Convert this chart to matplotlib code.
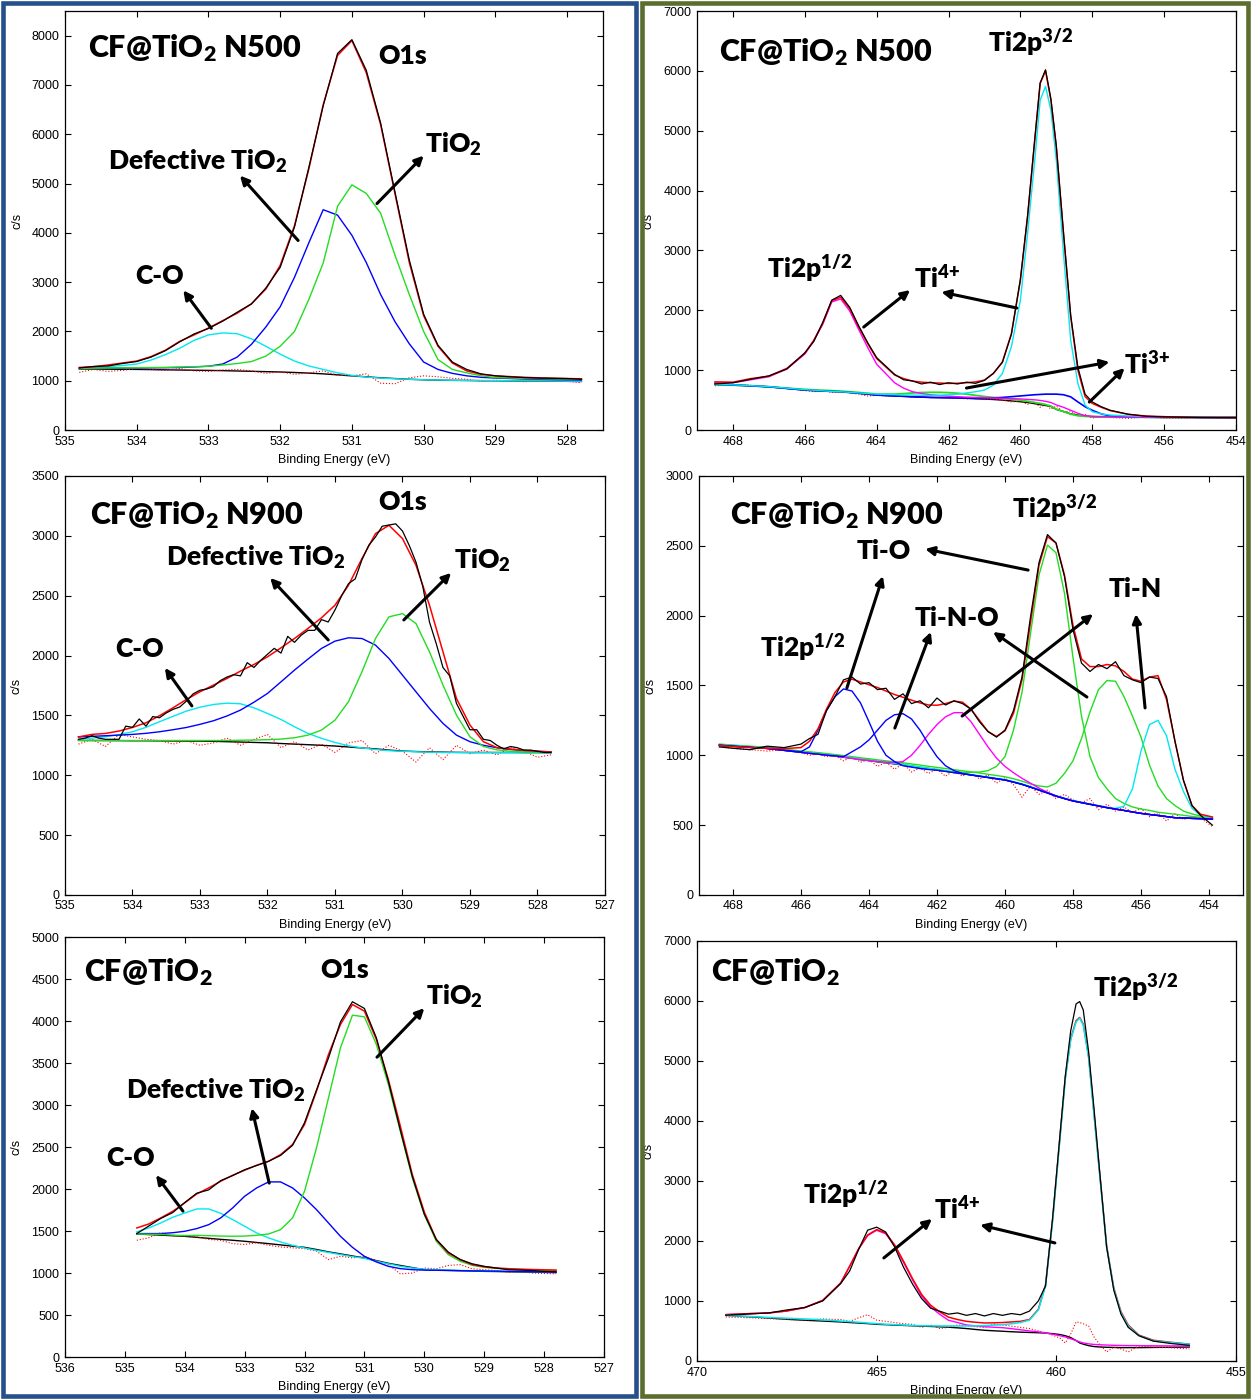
import matplotlib
matplotlib.use("Agg")
import matplotlib.pyplot as plt
from matplotlib.patches import Rectangle
from matplotlib.ticker import MultipleLocator

plt.rcParams['font.family'] = ['Liberation Sans', 'DejaVu Sans']
plt.rcParams['mathtext.fontset'] = 'custom'
plt.rcParams['mathtext.rm'] = 'Lato'
plt.rcParams['mathtext.bf'] = 'Lato:heavy'
plt.rcParams['mathtext.it'] = 'Lato:italic'

# ---------------- O1s energy grid (eV) ----------------
E_o = [534.8, 534.6, 534.4, 534.2, 534.0, 533.8, 533.6, 533.4, 533.2, 533.0,
       532.8, 532.6, 532.4, 532.2, 532.0, 531.8, 531.6, 531.4, 531.2, 531.0,
       530.8, 530.6, 530.4, 530.2, 530.0, 529.8, 529.6, 529.4, 529.2, 529.0,
       528.8, 528.6, 528.4, 528.2, 528.0, 527.8]

# CF@TiO2 N500, O1s
n500_o_bg = [1240, 1238, 1235, 1232, 1230, 1226, 1222, 1218, 1214, 1210,
             1205, 1198, 1192, 1185, 1178, 1168, 1155, 1140, 1120, 1100,
             1080, 1060, 1045, 1030, 1020, 1012, 1008, 1005, 1002, 1000,
             997, 994, 992, 990, 988, 985]
n500_o_co = [1250, 1265, 1285, 1310, 1340, 1420, 1530, 1660, 1820, 1930,
             1970, 1955, 1850, 1700, 1540, 1400, 1300, 1230, 1160, 1110,
             1075, 1055, 1040, 1030, 1020, 1015, 1010, 1008, 1005, 1003,
             1000, 998, 996, 994, 992, 990]
n500_o_def = [1250, 1250, 1255, 1258, 1260, 1262, 1265, 1270, 1280, 1295,
              1340, 1480, 1740, 2090, 2500, 3100, 3800, 4470, 4360, 3950,
              3400, 2750, 2200, 1750, 1380, 1230, 1150, 1100, 1070, 1055,
              1045, 1035, 1030, 1025, 1020, 1015]
n500_o_tio2 = [1250, 1255, 1258, 1262, 1265, 1268, 1272, 1278, 1285, 1295,
               1320, 1350, 1390, 1500, 1700, 2000, 2650, 3390, 4540, 4975,
               4800, 4400, 3550, 2750, 2000, 1430, 1230, 1160, 1100, 1065,
               1055, 1048, 1042, 1038, 1035, 1032]
n500_o_env = [1270, 1285, 1320, 1360, 1400, 1490, 1620, 1800, 1930, 2070,
              2220, 2370, 2560, 2860, 3340, 4150, 5300, 6600, 7600, 7900,
              7250, 6200, 4800, 3400, 2320, 1700, 1360, 1200, 1130, 1100,
              1085, 1070, 1060, 1052, 1045, 1040]
n500_o_raw = [1260, 1290, 1300, 1350, 1390, 1480, 1610, 1790, 1950, 2060,
              2210, 2390, 2560, 2880, 3300, 4120, 5330, 6580, 7640, 7920,
              7300, 6230, 4830, 3450, 2350, 1720, 1380, 1230, 1140, 1100,
              1080, 1065, 1055, 1050, 1045, 1030]
n500_o_res = [1170, 1230, 1190, 1210, 1250, 1230, 1210, 1250, 1200, 1190,
              1220, 1230, 1200, 1150, 1180, 1130, 1160, 1200, 1110, 1100,
              1140, 950, 940, 1060, 1100, 1080, 1050, 1030, 990, 1010,
              1000, 980, 990, 1000, 990, 960]

# CF@TiO2 N900, O1s
n900_o_bg = [1291, 1290, 1290, 1289, 1288, 1288, 1287, 1286, 1285, 1285,
             1283, 1280, 1277, 1274, 1271, 1265, 1260, 1255, 1250, 1244,
             1236, 1228, 1220, 1210, 1202, 1198, 1195, 1193, 1191, 1190,
             1190, 1190, 1190, 1189, 1189, 1188]
n900_o_co = [1300, 1310, 1321, 1340, 1363, 1400, 1447, 1492, 1536, 1568,
             1591, 1602, 1597, 1563, 1516, 1466, 1405, 1349, 1308, 1274,
             1246, 1228, 1215, 1205, 1200, 1196, 1192, 1190, 1189, 1188,
             1188, 1188, 1188, 1187, 1187, 1187]
n900_o_def = [1320, 1325, 1330, 1335, 1341, 1350, 1363, 1380, 1399, 1425,
              1455, 1495, 1544, 1610, 1683, 1780, 1878, 1970, 2059, 2120,
              2148, 2142, 2087, 1975, 1836, 1697, 1558, 1433, 1335, 1280,
              1250, 1230, 1215, 1205, 1200, 1195]
n900_o_tio2 = [1290, 1290, 1290, 1290, 1290, 1290, 1290, 1290, 1290, 1290,
               1290, 1290, 1292, 1294, 1297, 1302, 1313, 1335, 1377, 1460,
               1614, 1864, 2142, 2323, 2350, 2267, 2031, 1753, 1502, 1321,
               1240, 1212, 1200, 1195, 1192, 1190]
n900_o_env = [1320, 1341, 1349, 1369, 1399, 1438, 1497, 1563, 1633, 1697,
              1753, 1808, 1870, 1925, 1989, 2064, 2142, 2226, 2315, 2420,
              2587, 2810, 3018, 3088, 2977, 2754, 2420, 2031, 1641, 1419,
              1280, 1230, 1218, 1208, 1200, 1195]
n900_o_res = [1260, 1300, 1240, 1340, 1320, 1300, 1290, 1260, 1290, 1250,
              1270, 1310, 1250, 1300, 1340, 1230, 1280, 1210, 1260, 1190,
              1270, 1290, 1180, 1250, 1200, 1110, 1230, 1130, 1250, 1180,
              1210, 1170, 1230, 1200, 1150, 1170]
E_o_raw900 = [534.8, 534.7, 534.6, 534.5, 534.4, 534.3, 534.2, 534.1, 534.0, 533.9,
              533.8, 533.7, 533.6, 533.5, 533.4, 533.3, 533.2, 533.1, 533.0, 532.9,
              532.8, 532.7, 532.6, 532.5, 532.4, 532.3, 532.2, 532.1, 532.0, 531.9,
              531.8, 531.7, 531.6, 531.5, 531.4, 531.3, 531.2, 531.1, 531.0, 530.9,
              530.8, 530.7, 530.6, 530.5, 530.4, 530.3, 530.2, 530.1, 530.0, 529.9,
              529.8, 529.7, 529.6, 529.5, 529.4, 529.3, 529.2, 529.1, 529.0, 528.9,
              528.8, 528.7, 528.6, 528.5, 528.4, 528.3, 528.2, 528.1, 528.0, 527.9,
              527.8]
n900_o_raw = [1300, 1310, 1330, 1310, 1300, 1300, 1300, 1410, 1400, 1470,
              1410, 1490, 1480, 1520, 1550, 1570, 1620, 1680, 1710, 1720,
              1740, 1790, 1820, 1840, 1830, 1940, 1900, 1960, 2010, 2060,
              2020, 2160, 2110, 2170, 2210, 2210, 2300, 2280, 2380, 2500,
              2600, 2640, 2800, 2920, 2990, 3080, 3090, 3100, 3040, 2920,
              2780, 2580, 2280, 2100, 1900, 1830, 1600, 1490, 1380, 1380,
              1300, 1290, 1250, 1220, 1240, 1230, 1210, 1210, 1200, 1190,
              1190]

# CF@TiO2, O1s
cf_o_bg = [1465, 1458, 1451, 1444, 1437, 1425, 1413, 1401, 1390, 1378,
           1364, 1350, 1335, 1320, 1306, 1280, 1252, 1228, 1203, 1179,
           1148, 1116, 1090, 1065, 1040, 1036, 1032, 1028, 1024, 1020,
           1018, 1015, 1013, 1010, 1008, 1005]
cf_o_co = [1490, 1537, 1596, 1664, 1715, 1763, 1763, 1711, 1636, 1557,
           1477, 1418, 1370, 1330, 1298, 1270, 1245, 1220, 1195, 1175,
           1140, 1110, 1080, 1060, 1045, 1040, 1035, 1030, 1028, 1025,
           1022, 1020, 1018, 1015, 1013, 1010]
cf_o_def = [1470, 1470, 1470, 1480, 1497, 1529, 1576, 1656, 1775, 1914,
            2013, 2085, 2085, 2013, 1894, 1755, 1596, 1437, 1306, 1199,
            1132, 1080, 1052, 1040, 1035, 1033, 1030, 1028, 1026, 1024,
            1022, 1020, 1018, 1015, 1013, 1010]
cf_o_tio2 = [1465, 1462, 1460, 1452, 1445, 1449, 1445, 1440, 1438, 1440,
             1449, 1465, 1517, 1656, 1974, 2490, 3085, 3681, 4070, 4050,
             3721, 3244, 2688, 2132, 1696, 1378, 1219, 1140, 1092, 1068,
             1055, 1048, 1042, 1038, 1035, 1032]
cf_o_env = [1537, 1584, 1656, 1735, 1835, 1942, 2013, 2093, 2164, 2224,
            2283, 2331, 2410, 2530, 2768, 3165, 3602, 3959, 4197, 4118,
            3780, 3304, 2748, 2172, 1727, 1398, 1239, 1160, 1100, 1075,
            1060, 1052, 1046, 1042, 1038, 1035]
cf_o_raw = [1470, 1560, 1650, 1720, 1840, 1950, 1990, 2100, 2160, 2230,
            2280, 2330, 2400, 2520, 2790, 3180, 3560, 3990, 4230, 4150,
            3800, 3280, 2700, 2150, 1700, 1400, 1250, 1160, 1110, 1080,
            1060, 1040, 1035, 1030, 1020, 1015]
cf_o_res = [1390, 1420, 1480, 1440, 1450, 1430, 1400, 1390, 1350, 1340,
            1360, 1330, 1310, 1300, 1290, 1260, 1160, 1200, 1180, 1200,
            1150, 1100, 990, 1000, 1060, 1050, 1090, 1100, 1050, 1040,
            1030, 1010, 1020, 1000, 995, 990]

# ---------------- Ti2p, CF@TiO2 N500 ----------------
E_ti500 = [468.5, 468, 467.5, 467, 466.5, 466, 465.75, 465.5, 465.25, 465,
           464.75, 464.5, 464.25, 464, 463.5, 463.25, 463, 462.75, 462.5, 462.25,
           462, 461.75, 461.5, 461.25, 461, 460.75, 460.5, 460.25, 460, 459.8,
           459.6, 459.45, 459.3, 459.15, 459, 458.8, 458.6, 458.4, 458.2, 458,
           457.75, 457.5, 457, 456.5, 456, 455, 454]
n500_ti_env = [805, 800, 860, 900, 1030, 1280, 1500, 1780, 2160, 2220,
               2030, 1725, 1445, 1195, 920, 860, 818, 800, 790, 785,
               779, 782, 790, 805, 835, 945, 1140, 1610, 2500, 3560,
               4840, 5790, 6000, 5510, 4730, 3280, 1890, 1000, 560, 445,
               380, 325, 262, 234, 223, 212, 211]
n500_ti_raw = [770, 790, 850, 905, 1020, 1290, 1480, 1800, 2170, 2250,
               2050, 1740, 1460, 1210, 930, 840, 820, 770, 800, 760,
               790, 770, 800, 780, 830, 950, 1130, 1600, 2520, 3580,
               4860, 5800, 6020, 5530, 4750, 3300, 1920, 1050, 600, 470,
               390, 330, 265, 230, 220, 210, 205]
n500_ti_mag = [790, 790, 840, 890, 1020, 1270, 1490, 1770, 2140, 2190,
               1990, 1680, 1380, 1100, 790, 700, 640, 610, 590, 575,
               565, 557, 550, 545, 540, 535, 530, 525, 520, 512,
               505, 495, 480, 460, 420, 380, 330, 280, 240, 230,
               225, 220, 215, 213, 212, 211, 211]
n500_ti_cyan = [765, 755, 742, 725, 700, 675, 665, 655, 645, 640,
                630, 620, 610, 600, 590, 585, 585, 582, 580, 583,
                590, 600, 620, 640, 668, 750, 946, 1391, 2170, 3283,
                4507, 5508, 5742, 5341, 4507, 2949, 1502, 779, 417, 306,
                270, 250, 235, 228, 225, 215, 212]
n500_ti_bg = [768, 755, 740, 723, 695, 668, 660, 652, 645, 640,
              628, 615, 600, 584, 570, 563, 556, 550, 545, 542,
              540, 535, 530, 522, 517, 510, 500, 487, 473, 460,
              440, 425, 410, 395, 345, 310, 270, 250, 235, 223,
              220, 218, 215, 213, 212, 210, 210]
n500_ti_grn = [760, 750, 738, 725, 700, 680, 672, 665, 658, 650,
               640, 628, 615, 600, 600, 608, 620, 627, 630, 630,
               625, 615, 600, 580, 560, 545, 530, 515, 500, 480,
               460, 445, 425, 400, 350, 310, 265, 240, 228, 224,
               220, 218, 215, 213, 212, 210, 210]
n500_ti_blue = [765, 752, 738, 722, 695, 668, 660, 652, 645, 640,
                628, 615, 600, 584, 570, 563, 556, 550, 545, 542,
                540, 537, 534, 532, 530, 537, 545, 557, 570, 580,
                590, 595, 600, 600, 600, 590, 555, 470, 390, 330,
                270, 235, 220, 214, 213, 210, 210]
n500_ti_res = [740, 760, 750, 720, 700, 660, 640, 660, 630, 640,
               620, 600, 570, 580, 560, 570, 550, 560, 540, 545,
               530, 540, 520, 535, 510, 520, 500, 470, 480, 430,
               470, 380, 430, 350, 400, 300, 320, 230, 260, 200,
               230, 210, 195, 220, 200, 205, 200]

# ---------------- Ti2p, CF@TiO2 N900 ----------------
E_ti900 = [468.4, 468, 467.5, 467, 466.5, 466, 465.75, 465.5, 465.25, 465,
           464.75, 464.5, 464.25, 464, 463.75, 463.5, 463.25, 463, 462.75, 462.5,
           462.25, 462, 461.75, 461.5, 461.25, 461, 460.75, 460.5, 460.25, 460,
           459.75, 459.5, 459.25, 459, 458.75, 458.5, 458.25, 458, 457.75, 457.5,
           457.25, 457, 456.75, 456.5, 456.25, 456, 455.75, 455.5, 455.25, 455,
           454.75, 454.5, 454.25, 453.9]
n900_ti_bg = [1072, 1065, 1057, 1049, 1035, 1021, 1014, 1008, 1001, 994,
              986, 978, 969, 961, 953, 946, 938, 930, 921, 912,
              903, 894, 885, 876, 868, 859, 850, 841, 832, 823,
              808, 792, 772, 751, 730, 708, 690, 673, 661, 649,
              637, 625, 615, 605, 594, 584, 576, 569, 561, 553,
              551, 548, 546, 543]
n900_ti_b1 = [1072, 1065, 1057, 1049, 1036, 1025, 1060, 1180, 1320, 1420,
              1475, 1460, 1375, 1240, 1100, 1000, 955, 925, 915, 905,
              898, 893, 885, 876, 868, 859, 850, 841, 832, 823,
              808, 792, 772, 751, 730, 708, 690, 673, 661, 649,
              637, 625, 615, 605, 594, 584, 576, 569, 561, 553,
              551, 548, 546, 543]
n900_ti_b2 = [1072, 1065, 1057, 1049, 1035, 1021, 1014, 1008, 1001, 996,
              990, 1025, 1060, 1110, 1180, 1250, 1290, 1298, 1260, 1180,
              1080, 990, 925, 890, 870, 859, 850, 841, 832, 823,
              808, 792, 772, 751, 730, 708, 690, 673, 661, 649,
              637, 625, 615, 605, 594, 584, 576, 569, 561, 553,
              551, 548, 546, 543]
n900_ti_mag = [1072, 1065, 1057, 1049, 1035, 1021, 1014, 1008, 1001, 994,
               986, 978, 969, 963, 955, 950, 948, 955, 1000, 1070,
               1150, 1220, 1275, 1305, 1305, 1240, 1150, 1060, 980, 920,
               875, 835, 800, 765, 735, 708, 690, 673, 661, 649,
               637, 625, 615, 605, 594, 584, 576, 569, 561, 553,
               551, 548, 546, 543]
n900_ti_g1 = [1077, 1070, 1062, 1054, 1040, 1026, 1019, 1013, 1006, 999,
              991, 983, 974, 966, 958, 951, 943, 935, 926, 917,
              908, 899, 890, 882, 878, 878, 880, 890, 920, 990,
              1180, 1450, 1870, 2290, 2505, 2450, 2160, 1700, 1280, 990,
              840, 760, 690, 655, 630, 615, 605, 592, 585, 578,
              570, 562, 555, 548]
n900_ti_g2 = [1080, 1073, 1065, 1057, 1044, 1031, 1025, 1019, 1012, 1005,
              998, 990, 982, 975, 967, 960, 953, 946, 938, 930,
              921, 913, 905, 897, 889, 881, 873, 864, 855, 846,
              832, 815, 795, 780, 773, 800, 870, 960, 1120, 1310,
              1470, 1535, 1530, 1420, 1280, 1130, 930, 780, 690, 640,
              600, 580, 565, 555]
n900_ti_cyan = [1075, 1068, 1060, 1052, 1038, 1024, 1017, 1011, 1004, 997,
                989, 981, 972, 964, 956, 949, 941, 933, 924, 915,
                906, 897, 888, 879, 871, 862, 853, 844, 835, 826,
                811, 795, 775, 754, 733, 711, 693, 676, 664, 652,
                640, 628, 620, 635, 760, 1030, 1220, 1250, 1140, 900,
                740, 620, 570, 548]
n900_ti_env = [1070, 1062, 1055, 1050, 1048, 1055, 1100, 1190, 1330, 1450,
               1525, 1545, 1525, 1505, 1485, 1460, 1435, 1415, 1395, 1375,
               1360, 1358, 1370, 1388, 1380, 1330, 1250, 1170, 1135, 1175,
               1300, 1540, 1950, 2360, 2565, 2520, 2290, 1930, 1690, 1635,
               1635, 1650, 1640, 1600, 1545, 1530, 1560, 1570, 1400, 1100,
               820, 640, 578, 558]
n900_ti_raw = [1060, 1050, 1040, 1065, 1055, 1080, 1120, 1150, 1320, 1420,
               1540, 1560, 1510, 1520, 1470, 1480, 1400, 1440, 1370, 1390,
               1340, 1410, 1360, 1390, 1370, 1330, 1240, 1170, 1130, 1180,
               1320, 1560, 1990, 2380, 2580, 2520, 2280, 1900, 1660, 1600,
               1650, 1620, 1670, 1570, 1540, 1520, 1560, 1550, 1420, 1100,
               820, 640, 570, 500]
n900_ti_res = [1060, 1050, 1040, 1030, 1040, 1020, 1000, 1010, 990, 1000,
               960, 990, 950, 970, 920, 950, 900, 940, 880, 910,
               870, 900, 850, 890, 850, 880, 830, 860, 800, 840,
               790, 700, 780, 720, 750, 690, 720, 680, 660, 690,
               610, 650, 600, 630, 590, 620, 560, 590, 530, 580,
               540, 560, 550, 490]

# ---------------- Ti2p, CF@TiO2 ----------------
E_ti_cf = [469.2, 468.5, 468, 467.5, 467, 466.5, 466, 465.75, 465.5, 465.25,
           465, 464.75, 464.5, 464.25, 464, 463.75, 463.5, 463.25, 463, 462.75,
           462.5, 462.25, 462, 461.75, 461.5, 461.25, 461, 460.75, 460.5, 460.3,
           460.1, 459.9, 459.75, 459.6, 459.45, 459.35, 459.25, 459.1, 458.95, 458.8,
           458.6, 458.4, 458.2, 458, 457.7, 457.3, 456.8, 456.3]
cf_ti_bg = [761, 735, 715, 695, 678, 665, 650, 640, 632, 622,
            611, 605, 598, 592, 586, 580, 575, 569, 562, 552,
            540, 525, 511, 503, 495, 487, 480, 475, 470, 465,
            455, 440, 420, 390, 340, 300, 280, 255, 240, 233,
            228, 225, 222, 222, 222, 225, 228, 232]
cf_ti_mag = [772, 790, 800, 833, 890, 1010, 1300, 1580, 1870, 2090,
             2178, 2120, 1920, 1640, 1350, 1080, 900, 780, 678, 640,
             600, 585, 570, 562, 555, 538, 520, 500, 485, 467,
             445, 420, 400, 370, 340, 317, 300, 285, 275, 270,
             265, 260, 258, 256, 255, 253, 251, 250]
cf_ti_cyan = [761, 740, 725, 712, 700, 685, 665, 655, 645, 632,
              622, 612, 605, 598, 592, 588, 585, 583, 583, 583,
              583, 585, 590, 597, 605, 620, 640, 680, 850, 1250,
              2350, 3700, 4700, 5350, 5650, 5714, 5600, 5050, 4100, 3150,
              1900, 1200, 800, 584, 420, 335, 305, 278]
cf_ti_env = [772, 790, 800, 833, 890, 1010, 1300, 1580, 1870, 2100,
             2189, 2135, 1935, 1660, 1370, 1110, 930, 820, 730, 690,
             660, 645, 633, 635, 640, 650, 660, 690, 860, 1270,
             2370, 3720, 4720, 5370, 5670, 5725, 5615, 5070, 4120, 3170,
             1920, 1215, 820, 600, 430, 345, 310, 280]
cf_ti_raw = [761, 785, 800, 850, 890, 1000, 1290, 1500, 1860, 2180,
             2230, 2150, 1900, 1560, 1280, 1040, 880, 830, 780, 800,
             760, 790, 750, 790, 760, 790, 770, 830, 1000, 1250,
             2400, 3750, 4750, 5500, 5950, 5990, 5850, 5150, 4200, 3200,
             1900, 1180, 780, 560, 420, 330, 290, 260]
cf_ti_res = [733, 720, 706, 690, 680, 700, 690, 660, 720, 770,
             680, 660, 640, 620, 610, 560, 600, 540, 560, 600,
             590, 570, 560, 610, 600, 580, 560, 540, 500, 470,
             430, 380, 300, 450, 650, 640, 620, 580, 400, 280,
             150, 230, 200, 150, 250, 230, 220, 200]

GREEN = '#22dd22'
CYAN = '#00e8f0'
MAG = '#ff00ff'
BLUE = '#0000ff'


def setup(ax, xlim, ylim, xstep, ystep):
    ax.set_xlim(*xlim)
    ax.set_ylim(*ylim)
    ax.xaxis.set_major_locator(MultipleLocator(xstep))
    ax.yaxis.set_major_locator(MultipleLocator(ystep))
    ax.tick_params(direction='in', length=4, width=0.8, top=True, right=True,
                   labelsize=9, pad=4)
    for s in ax.spines.values():
        s.set_linewidth(0.9)
    ax.set_xlabel('Binding Energy (eV)', fontsize=9)
    ax.set_ylabel('c/s', fontsize=9)
    ax.xaxis.set_label_coords(0.5, -0.058)
    ax.yaxis.set_label_coords(-0.078, 0.5)


def label(ax, x, y, s, size=19, ha='center'):
    ax.text(x, y, s, fontsize=size, fontweight='heavy', family='Lato',
            ha=ha, va='center')


def arrow(ax, tail, head):
    ax.annotate('', xy=head, xytext=tail,
                arrowprops=dict(arrowstyle='-|>', color='k', lw=2.2,
                                mutation_scale=13, shrinkA=0, shrinkB=0))


def o1s(ax, bg, res, co, de, ti, env, raw, raw_x=None):
    ax.plot(E_o, bg, color='k', lw=1)
    ax.plot(E_o, res, color='r', lw=0.8, ls=':')
    ax.plot(E_o, co, color=CYAN, lw=1)
    ax.plot(E_o, de, color=BLUE, lw=1)
    ax.plot(E_o, ti, color=GREEN, lw=1)
    ax.plot(E_o, env, color='r', lw=1.1)
    ax.plot(raw_x if raw_x else E_o, raw, color='k', lw=0.9)


fig = plt.figure(figsize=(12.52, 13.99), dpi=100)

TIO2 = r'TiO$_\mathbf{2}$'
DEF = r'Defective TiO$_\mathbf{2}$'
TI4 = r'Ti$^\mathbf{4{+}}$'
TI3 = r'Ti$^\mathbf{3{+}}$'

# left column: O1s
ax1 = fig.add_axes([0.0519, 0.6926, 0.4297, 0.2995])
o1s(ax1, n500_o_bg, n500_o_res, n500_o_co, n500_o_def, n500_o_tio2,
    n500_o_env, n500_o_raw)
setup(ax1, (535, 527.5), (0, 8500), 1, 1000)
label(ax1, 534.68, 7750, r'CF@TiO$_\mathbf{2}$ N500', size=22, ha='left')
label(ax1, 530.29, 7590, 'O1s')
label(ax1, 533.15, 5466, DEF)
arrow(ax1, (531.75, 3846), (532.56, 5162))
label(ax1, 529.59, 5810, TIO2)
arrow(ax1, (530.65, 4595), (530.0, 5567))
label(ax1, 533.68, 3117, 'C-O')
arrow(ax1, (532.96, 2065), (533.35, 2834))

ax3 = fig.add_axes([0.0519, 0.3603, 0.4313, 0.2995])
o1s(ax3, n900_o_bg, n900_o_res, n900_o_co, n900_o_def, n900_o_tio2,
    n900_o_env, n900_o_raw, raw_x=E_o_raw900)
setup(ax3, (535, 527), (0, 3500), 1, 500)
label(ax3, 534.63, 3174, r'CF@TiO$_\mathbf{2}$ N900', size=22, ha='left')
label(ax3, 530.0, 3283, 'O1s')
label(ax3, 532.17, 2823, DEF)
arrow(ax3, (531.1, 2130), (531.96, 2648))
label(ax3, 528.81, 2798, TIO2)
arrow(ax3, (529.98, 2297), (529.28, 2690))
label(ax3, 533.89, 2055, 'C-O')
arrow(ax3, (533.12, 1579), (533.52, 1896))

ax5 = fig.add_axes([0.0519, 0.0300, 0.4305, 0.3002])
o1s(ax5, cf_o_bg, cf_o_res, cf_o_co, cf_o_def, cf_o_tio2, cf_o_env, cf_o_raw)
setup(ax5, (536, 527), (0, 5000), 1, 500)
label(ax5, 535.68, 4582, r'CF@TiO$_\mathbf{2}$', size=22, ha='left')
label(ax5, 531.33, 4605, 'O1s')
label(ax5, 533.48, 3177, DEF)
arrow(ax5, (532.59, 2071), (532.88, 2963))
label(ax5, 529.49, 4296, TIO2)
arrow(ax5, (530.79, 3570), (530.0, 4153))
label(ax5, 534.91, 2368, 'C-O')
arrow(ax5, (534.03, 1737), (534.48, 2166))

# right column: Ti2p
ax2 = fig.add_axes([0.5567, 0.6926, 0.4305, 0.2995])
ax2.plot(E_ti500, n500_ti_bg, color='k', lw=1)
ax2.plot(E_ti500, n500_ti_res, color='r', lw=0.8, ls=':')
ax2.plot(E_ti500, n500_ti_grn, color=GREEN, lw=1.3)
ax2.plot(E_ti500, n500_ti_blue, color=BLUE, lw=1.2)
ax2.plot(E_ti500, n500_ti_mag, color=MAG, lw=1)
ax2.plot(E_ti500, n500_ti_cyan, color=CYAN, lw=1)
ax2.plot(E_ti500, n500_ti_env, color='r', lw=1.1)
ax2.plot(E_ti500, n500_ti_raw, color='k', lw=0.9)
setup(ax2, (469, 454), (0, 7000), 2, 1000)
label(ax2, 468.39, 6316, r'CF@TiO$_\mathbf{2}$ N500', size=22, ha='left')
label(ax2, 459.71, 6483, r'Ti2p$^\mathbf{3/2}$')
label(ax2, 465.87, 2707, r'Ti2p$^\mathbf{1/2}$')
label(ax2, 462.31, 2557, TI4)
arrow(ax2, (464.36, 1721), (463.07, 2339))
arrow(ax2, (460.1, 2039), (462.2, 2306))
label(ax2, 456.49, 1120, TI3)
arrow(ax2, (461.5, 702), (457.52, 1136))
arrow(ax2, (458.08, 468), (457.1, 1036))

ax4 = fig.add_axes([0.5583, 0.3603, 0.4345, 0.2995])
ax4.plot(E_ti900, n900_ti_bg, color='k', lw=1)
ax4.plot(E_ti900, n900_ti_res, color='r', lw=0.8, ls=':')
ax4.plot(E_ti900, n900_ti_g2, color=GREEN, lw=1)
ax4.plot(E_ti900, n900_ti_g1, color=GREEN, lw=1)
ax4.plot(E_ti900, n900_ti_cyan, color=CYAN, lw=1)
ax4.plot(E_ti900, n900_ti_mag, color=MAG, lw=1)
ax4.plot(E_ti900, n900_ti_b2, color=BLUE, lw=1)
ax4.plot(E_ti900, n900_ti_b1, color=BLUE, lw=1)
ax4.plot(E_ti900, n900_ti_env, color='r', lw=1.1)
ax4.plot(E_ti900, n900_ti_raw, color='k', lw=0.9)
setup(ax4, (469, 453), (0, 3000), 2, 500)
label(ax4, 468.09, 2720, r'CF@TiO$_\mathbf{2}$ N900', size=22, ha='left')
label(ax4, 458.53, 2770, r'Ti2p$^\mathbf{3/2}$')
label(ax4, 463.56, 2462, 'Ti-O')
label(ax4, 465.94, 1775, r'Ti2p$^\mathbf{1/2}$')
label(ax4, 461.41, 1983, 'Ti-N-O')
label(ax4, 456.18, 2190, 'Ti-N')
arrow(ax4, (464.65, 1482), (463.59, 2283))
arrow(ax4, (459.32, 2326), (462.35, 2477))
arrow(ax4, (463.24, 1195), (462.18, 1883))
arrow(ax4, (457.59, 1417), (460.35, 1883))
arrow(ax4, (461.26, 1281), (457.41, 2011))
arrow(ax4, (455.88, 1339), (456.15, 2011))

ax6 = fig.add_axes([0.5567, 0.0272, 0.4305, 0.3002])
ax6.plot(E_ti_cf, cf_ti_bg, color='k', lw=1)
ax6.plot(E_ti_cf, cf_ti_res, color='r', lw=0.8, ls=':')
ax6.plot(E_ti_cf, cf_ti_mag, color=MAG, lw=1)
ax6.plot(E_ti_cf, cf_ti_env, color='r', lw=1.1)
ax6.plot(E_ti_cf, cf_ti_cyan, color=CYAN, lw=1.1)
ax6.plot(E_ti_cf, cf_ti_raw, color='k', lw=0.9)
setup(ax6, (470, 455), (0, 7000), 5, 1000)
label(ax6, 469.61, 6483, r'CF@TiO$_\mathbf{2}$', size=22, ha='left')
label(ax6, 457.78, 6233, r'Ti2p$^\mathbf{3/2}$')
label(ax6, 465.85, 2767, r'Ti2p$^\mathbf{1/2}$')
label(ax6, 462.76, 2550, TI4)
arrow(ax6, (464.8, 1717), (463.46, 2367))
arrow(ax6, (460.04, 1967), (462.12, 2267))

# column frames
fig.patches.append(Rectangle((0.0024, 0.0021), 0.5056, 0.9957, transform=fig.transFigure,
                             fill=False, ec='#26508c', lw=3.3, joinstyle='miter'))
fig.patches.append(Rectangle((0.5128, 0.0021), 0.4840, 0.9957, transform=fig.transFigure,
                             fill=False, ec='#5b6e2d', lw=3.3, joinstyle='miter'))

fig.savefig('out.png', dpi=100)
